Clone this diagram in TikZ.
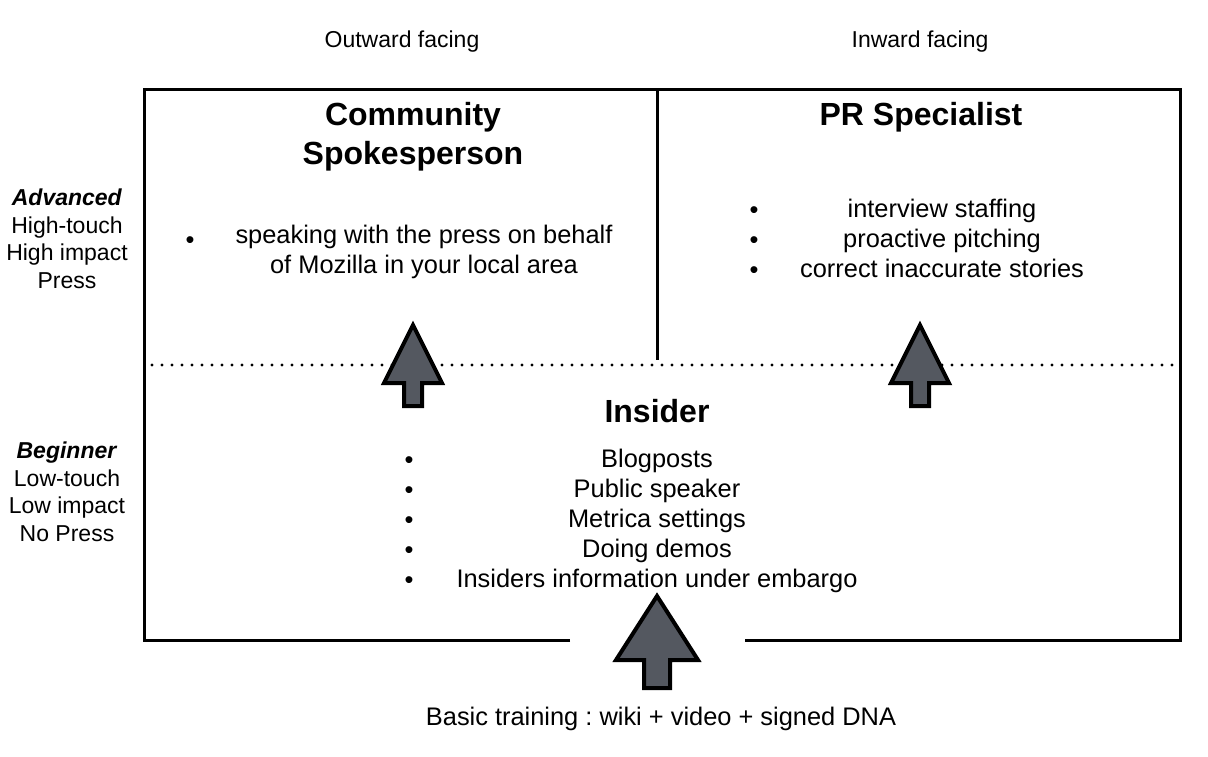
\documentclass[tikz,border=0pt]{standalone}
\usepackage{fontspec}
\setmainfont{Liberation Sans}
\frenchspacing
\definecolor{arrowgray}{RGB}{84,88,96}
\tikzset{
  frame/.style={line width=1.5pt},
  dotline/.style={line width=1.6pt,line cap=round,dash pattern=on 0pt off 5pt},
  uparrow/.style={draw=black,line width=2pt,fill=arrowgray,line join=miter},
  heading/.style={font=\fontsize{16}{19.5}\selectfont\bfseries,align=center,inner sep=0pt},
  txt/.style={font=\fontsize{12.7}{15}\selectfont,align=center,inner sep=0pt},
  side/.style={font=\fontsize{11.5}{13.75}\selectfont,align=center,inner sep=0pt}
}
\begin{document}
\begin{tikzpicture}[x=0.5pt,y=-0.5pt]
\useasboundingbox (0,0) rectangle (1208,756);
% frame and grid
\draw[frame] (570,640) -- (144,640) -- (144,89) -- (1180,89) -- (1180,640) -- (745,640);
\draw[frame] (657,89) -- (657,360);
\draw[dotline] (152,365) -- (1172,365);
% column and row labels
\node[side] (outward) at (402,42) {Outward facing};
\node[side] (inward) at (920,42) {Inward facing};
\node[side] (adv) at (67,239) {\textbf{\itshape Advanced}\\High-touch\\High impact\\Press};
\node[side] (beg) at (67,492) {\textbf{\itshape Beginner}\\Low-touch\\Low impact\\No Press};
% titles
\node[heading] (spokes) at (413,137) {Community\\Spokesperson};
\node[heading] (prspec) at (921,117) {PR Specialist};
\node[heading] (insider) at (657,411) {Insider};
% lists
\node[txt] (spokestxt) at (424,252) {speaking with the press on behalf\\of Mozilla in your local area};
\node[txt] (prtxt) at (942,238) {interview staffing\\proactive pitching\\correct inaccurate stories};
\node[txt] (insidertxt) at (657,521) {Blogposts\\Public speaker\\Metrica settings\\Doing demos\\Insiders information under embargo};
\node[txt] (sb1) at (190,242) {\strut\textbullet};
\foreach \y [count=\i] in {212,242,272}
  \node[txt] (pb\i) at (754,\y) {\strut\textbullet};
\foreach \y [count=\i] in {462,492,522,552,582}
  \node[txt] (ib\i) at (409,\y) {\strut\textbullet};
\node[txt] (basic) at (661,719) {Basic training : wiki + video + signed DNA};
% arrows
\foreach \x in {413,920}
  \draw[uparrow] (\x,325) -- (\x+29,383) -- (\x+9,383) -- (\x+9,406) -- (\x-9,406) -- (\x-9,383) -- (\x-29,383) -- cycle;
\draw[uparrow] (657,596) -- (698,660) -- (670,660) -- (670,688) -- (644,688) -- (644,660) -- (616,660) -- cycle;
\end{tikzpicture}
\end{document}
